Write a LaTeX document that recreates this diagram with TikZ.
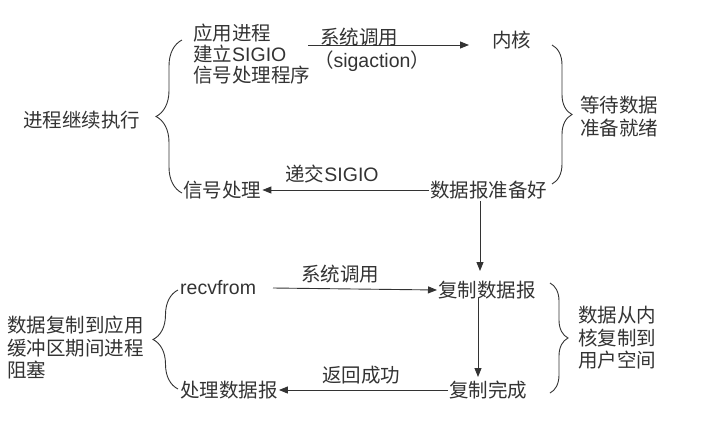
\documentclass[tikz,border=0pt]{standalone}
\usepackage{fontspec}
\setmainfont{Liberation Sans}
\newfontfamily\cjk{Noto Sans CJK SC}
\usetikzlibrary{arrows.meta,decorations.pathreplacing}
\definecolor{ink}{HTML}{333333}
\begin{document}
\begin{tikzpicture}[x=1pt,y=-1pt,
  every node/.style={inner sep=1pt,text=ink,font=\fontsize{19.5}{22.5}\selectfont},
  lbl/.style={anchor=west,align=left},
  cjkblock/.style={lbl,font=\fontsize{19.5}{22.5}\selectfont\cjk},
  conn/.style={draw=ink,line width=0.9pt,-{Triangle[length=9pt,width=7pt]}},
  brc/.style={draw=ink,line width=0.9pt,decorate,decoration={brace,amplitude=#1,aspect=0.5}}]
\useasboundingbox (0,0) rectangle (713,421);
% upper part
\node[lbl,font=\fontsize{19.5}{21}\selectfont] (app) at (192,54) {{\cjk 应用进程}\\{\cjk 建立}SIGIO\\{\cjk 信号处理程序}};
\node[lbl] (kernel) at (491,40) {\cjk 内核};
\node[cjkblock] (wait) at (579,116.5) {等待数据\\准备就绪};
\node[lbl] (cont) at (22,120) {\cjk 进程继续执行};
\node[lbl] (sig) at (182,190) {\cjk 信号处理};
\node[lbl] (ready) at (429,190) {\cjk 数据报准备好};
\coordinate (a1s) at (308,45);
\coordinate (a1e) at (469,45);
\draw[conn] (a1s) -- (a1e);
\node (l1) at (359,37) {\cjk 系统调用};
\node (l1b) at (372,61) {{\cjk （}sigaction{\cjk ）}};
\draw[conn] (ready.west) -- (sig.east);
\node (l2) at (332,174) {{\cjk 递交}SIGIO};
\coordinate (a3s) at (480,201);
\coordinate (a3e) at (480,271);
\draw[conn] (a3s) -- (a3e);
\draw[brc=26] (182,193) -- (182,40);
\draw[brc=20] (552,45) -- (552,184);
% lower part
\node[lbl] (recv) at (179,288) {recvfrom};
\node[lbl] (copy) at (437,290) {\cjk 复制数据报};
\node[lbl] (done) at (448,390) {\cjk 复制完成};
\node[lbl] (proc) at (179,390) {\cjk 处理数据报};
\node[cjkblock] (block) at (6,347.5) {数据复制到应用\\缓冲区期间进程\\阻塞};
\node[cjkblock] (space) at (577,338) {数据从内\\核复制到\\用户空间};
\coordinate (a4s) at (273,288);
\draw[conn] (a4s) -- (copy.west);
\node (l4) at (340,274) {\cjk 系统调用};
\coordinate (a5s) at (478,298);
\coordinate (a5e) at (478,377);
\draw[conn] (a5s) -- (a5e);
\draw[conn] (done.west) -- (proc.east);
\node (l6) at (361,375) {\cjk 返回成功};
\draw[brc=25] (178,389) -- (178,290);
\draw[brc=18] (550,283) -- (550,393);
\end{tikzpicture}
\end{document}
